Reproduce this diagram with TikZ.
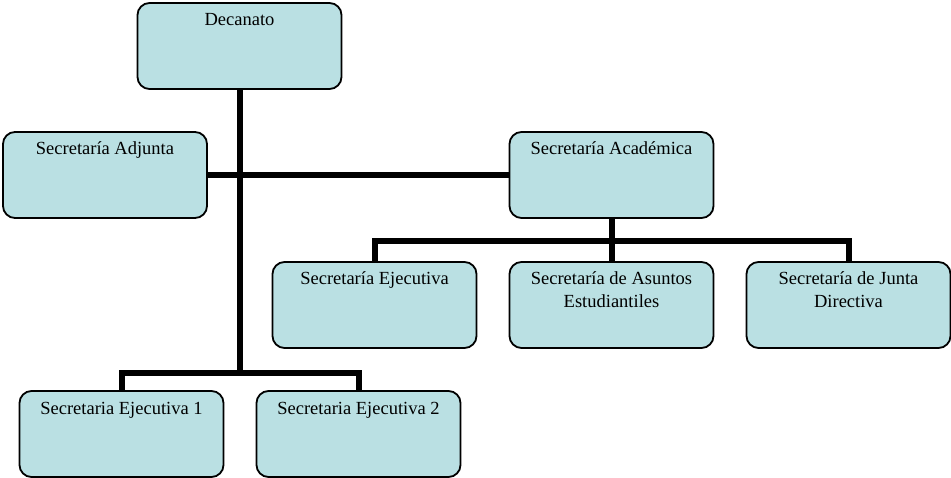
\documentclass[tikz,border=0pt]{standalone}
\usepackage{fontspec}
\setmainfont{Liberation Serif}
\usetikzlibrary{backgrounds}
\definecolor{boxfill}{RGB}{186,224,227}
\tikzset{
  unit/.style={
    draw=black, line width=1.8pt, fill=boxfill,
    rounded corners=12pt,
    minimum width=204pt, minimum height=86pt,
    inner xsep=2pt, inner ysep=4pt,
    text width=200pt, align=flush center,
    text height=19pt, text depth=59pt,
    font=\fontsize{18.5pt}{23pt}\selectfont
  },
  conn/.style={line width=6pt, line join=miter, line cap=rect, black}
}
\begin{document}
\begin{tikzpicture}[x=1pt, y=-1pt]
  \useasboundingbox (0,0) rectangle (951,478);

  % organisational units
  \node[unit] (dec) at (239.5,46)  {Decanato};
  \node[unit] (adj) at (105,175)   {Secretaría Adjunta};
  \node[unit] (aca) at (611.5,175) {Secretaría Académica};
  \node[unit] (eje) at (374.5,305) {Secretaría Ejecutiva};
  \node[unit] (ase) at (611.5,305) {Secretaría de Asuntos\\Estudiantiles};
  \node[unit] (jdi) at (848.5,305) {Secretaría de Junta\\Directiva};
  \node[unit] (se1) at (121.5,434) {Secretaria Ejecutiva 1};
  \node[unit] (se2) at (358.5,434) {Secretaria Ejecutiva 2};

  % bus junctions
  \coordinate (busA) at (611.5,241);
  \coordinate (busB) at (239.5,373);

  \begin{scope}[on background layer]
    % main trunk from the dean's office
    \draw[conn] (dec.south) -- (busB);
    % staff line
    \draw[conn] (adj.east) -- (aca.west);
    % academic secretariat branch
    \draw[conn] (aca.south) -- (ase.north);
    \draw[conn] (eje.north) -- (eje.north |- busA) -- (jdi.north |- busA) -- (jdi.north);
    % executive secretaries
    \draw[conn] (se1.north) -- (se1.north |- busB) -- (se2.north |- busB) -- (se2.north);
  \end{scope}
\end{tikzpicture}
\end{document}
